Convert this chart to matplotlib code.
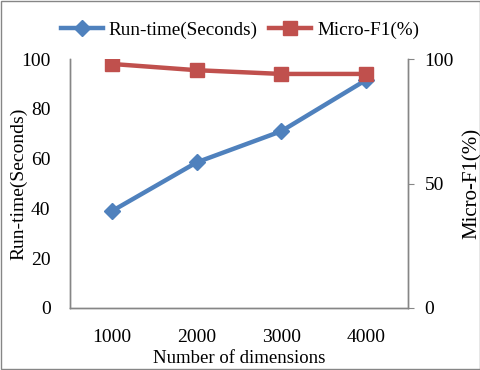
import matplotlib
matplotlib.use("Agg")
import matplotlib.pyplot as plt
from matplotlib.patches import Rectangle

categories = ["1000", "2000", "3000", "4000"]
runtime = [39, 58.5, 71, 91.5]
micro_f1 = [98, 95.5, 94, 94]
left_ticks = [0, 20, 40, 60, 80, 100]
right_ticks = [0, 50, 100]

plt.rcParams['font.family'] = ['Liberation Serif', 'DejaVu Serif']
plt.rcParams['font.size'] = 14

fig = plt.figure(figsize=(4.81, 3.70), dpi=100)
ax = fig.add_axes([70/481, 1-308/370, 338/481, 249/370])
ax2 = ax.twinx()

x = list(range(len(categories)))
blue = "#4F81BD"
red = "#C0504D"
l1, = ax.plot(x, runtime, color=blue, lw=3.2, marker="D", ms=8, mfc=blue, mec=blue,
              label="Run-time(Seconds)")
l2, = ax2.plot(x, micro_f1, color=red, lw=3.2, marker="s", ms=10, mfc=red, mec=red,
               label="Micro-F1(%)")

ax.set_xlim(-0.5, 3.5)
ax.set_ylim(0, 100)
ax2.set_ylim(0, 100)
ax.set_xticks(x)
ax.set_xticklabels(categories)
ax.set_yticks(left_ticks)
ax2.set_yticks(right_ticks)

for a in (ax, ax2):
    a.spines['top'].set_visible(False)
    for s in a.spines.values():
        s.set_color("#868686")
        s.set_linewidth(1)
ax.tick_params(axis='x', length=0, pad=15, labelsize=14)
ax.tick_params(axis='y', length=0, pad=14, labelsize=14)
ax2.tick_params(axis='y', length=4, color="#868686", pad=8, labelsize=14)

ax.set_xlabel("Number of dimensions", labelpad=3, fontsize=13.5)
ax.set_ylabel("Run-time(Seconds)", fontsize=14)
ax.yaxis.set_label_coords(-0.125, 0.5)
ax2.set_ylabel("Micro-F1(%)", labelpad=6, fontsize=15)

fig.legend(handles=[l1, l2], loc="center", bbox_to_anchor=(0.499, 1-30/370), ncol=2,
           frameon=False, handlelength=2.2, columnspacing=0.6, handletextpad=0.3,
           fontsize=13.8)

fig.patches.append(Rectangle((0.002, 0.002), 0.996, 0.996, transform=fig.transFigure,
                             fill=False, edgecolor="#868686", lw=1))

fig.savefig("out.png", dpi=100)
